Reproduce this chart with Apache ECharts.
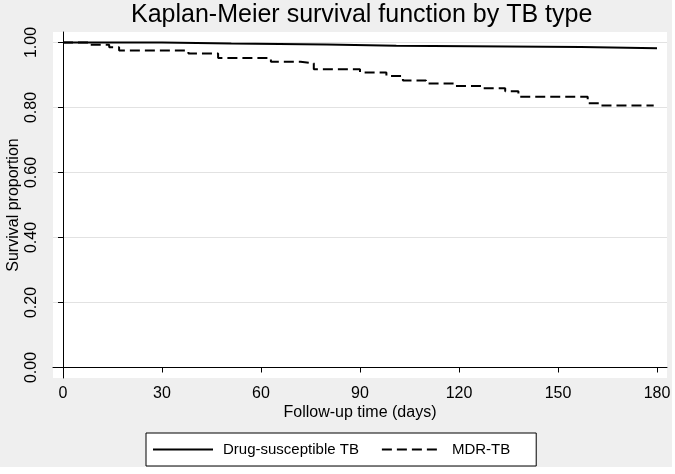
<!DOCTYPE html>
<html>
<head>
<meta charset="utf-8">
<script src="https://cdn.jsdelivr.net/npm/echarts@6/dist/echarts.min.js"></script>
<style>html,body{margin:0;padding:0;background:#fff;}#c{width:675px;height:474px;}</style>
</head>
<body>
<div id="c"></div>
<script>
// Data
var dsTime  = [0, 30, 51, 80, 101, 157, 180];
var dsSurv  = [1.000, 0.997, 0.994, 0.990, 0.986, 0.982, 0.982];
var mdrTime = [0, 8, 14, 17, 38, 47, 63, 72, 76, 90, 98, 103, 110, 119, 127, 134, 138, 159, 163, 179];
var mdrSurv = [1.000, 0.993, 0.985, 0.975, 0.966, 0.952, 0.941, 0.936, 0.918, 0.908, 0.897, 0.883, 0.874, 0.866, 0.859, 0.850, 0.833, 0.813, 0.806, 0.806];
var xTicks = [0, 30, 60, 90, 120, 150, 180];
var yTicks = [0, 0.2, 0.4, 0.6, 0.8, 1.0];
var seriesNames = ['Drug-susceptible TB', 'MDR-TB'];

function pairs(t, s) { return t.map(function (v, i) { return [v, s[i]]; }); }

var FONT = 'Liberation Sans';
var chart = echarts.init(document.getElementById('c'), null, { renderer: 'canvas' });
chart.setOption({
  animation: false,
  backgroundColor: '#ffffff',
  graphic: [{
    type: 'rect', z: -10, silent: true,
    shape: { x: 0, y: 0, width: 672, height: 467 },
    style: { fill: '#efefef' }
  }],
  title: {
    text: 'Kaplan-Meier survival function by TB type',
    left: 131, top: 3, padding: 0,
    textStyle: { fontFamily: FONT, fontSize: 25, fontWeight: 'normal', color: '#000' }
  },
  grid: {
    left: 53, top: 32, right: 8, bottom: 96,
    outerBoundsMode: 'none', containLabel: false,
    show: true, backgroundColor: '#ffffff', borderWidth: 0
  },
  legend: {
    left: 146, top: 433,
    data: seriesNames,
    backgroundColor: '#ffffff', borderColor: '#000', borderWidth: 1,
    padding: [9, 26, 9, 6], itemGap: 22,
    itemWidth: 60, itemHeight: 14,
    itemStyle: { opacity: 0 },
    textStyle: { fontFamily: FONT, fontSize: 15, color: '#000', padding: [0, 0, 0, 5] }
  },
  xAxis: {
    type: 'value', min: -3.03, max: 183.03,
    name: 'Follow-up time (days)', nameLocation: 'middle', nameGap: 27, nameMoveOverlap: false,
    nameTextStyle: { fontFamily: FONT, fontSize: 16, color: '#000' },
    axisLine: { show: true, lineStyle: { color: '#000', width: 1 } },
    axisTick: { show: true, customValues: xTicks, length: 5, lineStyle: { color: '#000' } },
    axisLabel: { customValues: xTicks, fontFamily: FONT, fontSize: 16, color: '#000', margin: 8 },
    splitLine: { show: false }
  },
  yAxis: {
    type: 'value', min: -0.0323, max: 1.0323,
    name: 'Survival proportion', nameLocation: 'middle', nameGap: 31, nameRotate: 90, nameMoveOverlap: false,
    nameTextStyle: { fontFamily: FONT, fontSize: 16, color: '#000' },
    axisLine: { show: true, lineStyle: { color: '#000', width: 1 } },
    axisTick: { show: true, customValues: yTicks, length: 5, lineStyle: { color: '#000' } },
    axisLabel: {
      customValues: yTicks, rotate: 90, fontFamily: FONT, fontSize: 16, color: '#000', margin: 13,
      formatter: function (v) { return v.toFixed(2); }
    },
    splitLine: { show: true, lineStyle: { color: '#e2e2e2', width: 1 } }
  },
  series: [{
    name: seriesNames[0], type: 'line', step: 'end', symbol: 'none',
    data: pairs(dsTime, dsSurv),
    lineStyle: { color: '#000', width: 2, type: 'solid' },
    itemStyle: { color: '#000' }, z: 3
  }, {
    name: seriesNames[1], type: 'line', step: 'end', symbol: 'none',
    data: pairs(mdrTime, mdrSurv),
    lineStyle: { color: '#000', width: 2, type: [10, 5] },
    itemStyle: { color: '#000' }, z: 2
  }]
});
</script>
</body>
</html>
